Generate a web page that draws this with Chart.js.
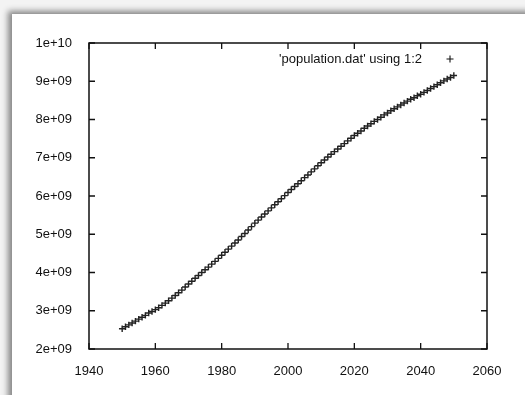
<!DOCTYPE html>
<html>
<head>
<meta charset="utf-8">
<script src="https://cdn.jsdelivr.net/npm/chart.js@4.4.0/dist/chart.umd.min.js"></script>
<style>
html, body { margin: 0; padding: 0; }
body { width: 525px; height: 395px; background: #f3f3f3; position: relative; overflow: hidden; }
#frame { position: absolute; left: 12px; top: 14px; right: -10px; bottom: -10px; background: #fff; box-shadow: -4px -3px 6px rgba(0,0,0,0.45); }
#wrap { position: absolute; left: 0; top: 0; width: 525px; height: 395px; }
</style>
</head>
<body>
<div id="frame"></div>
<div id="wrap"><canvas id="chart" width="525" height="395"></canvas></div>
<script>
// population.dat, column 1 = year, column 2 = population
const years = [
  1950, 1951, 1952, 1953, 1954, 1955, 1956, 1957, 1958, 1959,
  1960, 1961, 1962, 1963, 1964, 1965, 1966, 1967, 1968, 1969,
  1970, 1971, 1972, 1973, 1974, 1975, 1976, 1977, 1978, 1979,
  1980, 1981, 1982, 1983, 1984, 1985, 1986, 1987, 1988, 1989,
  1990, 1991, 1992, 1993, 1994, 1995, 1996, 1997, 1998, 1999,
  2000, 2001, 2002, 2003, 2004, 2005, 2006, 2007, 2008, 2009,
  2010, 2011, 2012, 2013, 2014, 2015, 2016, 2017, 2018, 2019,
  2020, 2021, 2022, 2023, 2024, 2025, 2026, 2027, 2028, 2029,
  2030, 2031, 2032, 2033, 2034, 2035, 2036, 2037, 2038, 2039,
  2040, 2041, 2042, 2043, 2044, 2045, 2046, 2047, 2048, 2049,
  2050
];
const population = [
  2.53e9, 2.58e9, 2.63e9, 2.68e9, 2.73e9, 2.78e9, 2.83e9, 2.88e9, 2.94e9, 2.98e9,
  3.03e9, 3.08e9, 3.14e9, 3.20e9, 3.26e9, 3.33e9, 3.40e9, 3.47e9, 3.54e9, 3.62e9,
  3.70e9, 3.77e9, 3.85e9, 3.92e9, 4.00e9, 4.07e9, 4.14e9, 4.22e9, 4.29e9, 4.37e9,
  4.45e9, 4.53e9, 4.61e9, 4.69e9, 4.77e9, 4.85e9, 4.94e9, 5.02e9, 5.11e9, 5.20e9,
  5.29e9, 5.37e9, 5.45e9, 5.53e9, 5.61e9, 5.69e9, 5.77e9, 5.85e9, 5.93e9, 6.01e9,
  6.09e9, 6.17e9, 6.25e9, 6.32e9, 6.40e9, 6.48e9, 6.55e9, 6.63e9, 6.71e9, 6.79e9,
  6.87e9, 6.94e9, 7.02e9, 7.09e9, 7.16e9, 7.23e9, 7.30e9, 7.37e9, 7.44e9, 7.51e9,
  7.58e9, 7.64e9, 7.70e9, 7.77e9, 7.83e9, 7.89e9, 7.95e9, 8.00e9, 8.06e9, 8.12e9,
  8.17e9, 8.23e9, 8.28e9, 8.33e9, 8.38e9, 8.43e9, 8.48e9, 8.53e9, 8.57e9, 8.62e9,
  8.66e9, 8.71e9, 8.76e9, 8.81e9, 8.86e9, 8.91e9, 8.96e9, 9.01e9, 9.06e9, 9.10e9,
  9.15e9
];
const seriesLabel = "'population.dat' using 1:2";
const xTicks = [1940, 1960, 1980, 2000, 2020, 2040, 2060];
const yTicks = [2e9, 3e9, 4e9, 5e9, 6e9, 7e9, 8e9, 9e9, 1e10];

const FONT = "'Liberation Sans', Arial, sans-serif";
const INK = '#111';

// gnuplot style: 9e+09, 1e+10
function gnuExp(v) {
  const [m, e] = v.toExponential().split('e');
  const n = Math.abs(parseInt(e, 10));
  return m + 'e' + (e[0] === '-' ? '-' : '+') + (n < 10 ? '0' + n : n);
}

// border, inward ticks on all four sides, key in the top right corner
const gnuplotFrame = {
  id: 'gnuplotFrame',
  afterDraw(chart) {
    const { ctx, chartArea: a, scales: { x, y } } = chart;
    const tick = 6;
    ctx.save();
    ctx.strokeStyle = INK;
    ctx.lineWidth = 1.5;
    ctx.strokeRect(a.left, a.top, a.right - a.left, a.bottom - a.top);

    ctx.lineWidth = 1.3;
    ctx.beginPath();
    x.ticks.forEach(t => {
      const px = x.getPixelForValue(t.value);
      ctx.moveTo(px, a.bottom); ctx.lineTo(px, a.bottom - tick);
      ctx.moveTo(px, a.top); ctx.lineTo(px, a.top + tick);
    });
    y.ticks.forEach(t => {
      const py = y.getPixelForValue(t.value);
      ctx.moveTo(a.left, py); ctx.lineTo(a.left + tick, py);
      ctx.moveTo(a.right, py); ctx.lineTo(a.right - tick, py);
    });
    ctx.stroke();

    // key
    const ky = a.top + 16;
    ctx.fillStyle = INK;
    ctx.font = '13px ' + FONT;
    ctx.textAlign = 'right';
    ctx.textBaseline = 'middle';
    ctx.fillText(chart.data.datasets[0].label, a.right - 65, ky);
    const kx = a.right - 37;
    ctx.lineWidth = 1.1;
    ctx.beginPath();
    ctx.moveTo(kx - 3.5, ky); ctx.lineTo(kx + 3.5, ky);
    ctx.moveTo(kx, ky - 3.5); ctx.lineTo(kx, ky + 3.5);
    ctx.stroke();
    ctx.restore();
  }
};

const points = years.map((yr, i) => ({ x: yr, y: population[i] }));

new Chart(document.getElementById('chart'), {
  type: 'scatter',
  data: {
    datasets: [{
      label: seriesLabel,
      data: points,
      pointStyle: 'cross',
      pointRadius: 3.2,
      pointBorderWidth: 1.4,
      borderColor: '#222',
      backgroundColor: '#222',
      showLine: false
    }]
  },
  options: {
    responsive: false,
    animation: false,
    layout: { padding: { top: 43, right: 38, left: 0, bottom: 0 } },
    plugins: {
      legend: { display: false },
      tooltip: { enabled: false }
    },
    scales: {
      x: {
        type: 'linear',
        min: xTicks[0],
        max: xTicks[xTicks.length - 1],
        afterFit(s) { s.height = 46; },
        afterBuildTicks(s) { s.ticks = xTicks.map(v => ({ value: v })); },
        grid: { display: false },
        border: { display: false },
        ticks: {
          color: INK,
          font: { family: FONT, size: 13 },
          padding: 7,
          maxRotation: 0,
          callback: v => String(v)
        }
      },
      y: {
        type: 'linear',
        min: yTicks[0],
        max: yTicks[yTicks.length - 1],
        afterFit(s) { s.width = 89; },
        afterBuildTicks(s) { s.ticks = yTicks.map(v => ({ value: v })); },
        grid: { display: false },
        border: { display: false },
        ticks: {
          color: INK,
          font: { family: FONT, size: 13 },
          padding: 9,
          callback: v => gnuExp(v)
        }
      }
    }
  },
  plugins: [gnuplotFrame]
});
</script>
</body>
</html>
